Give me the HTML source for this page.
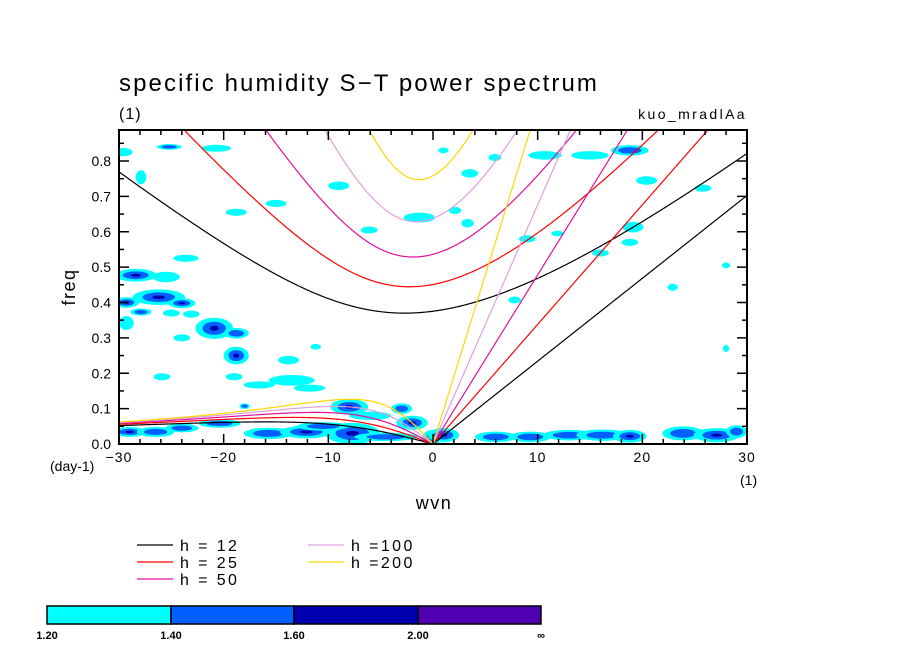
<!DOCTYPE html>
<html><head><meta charset="utf-8">
<style>
html,body{margin:0;padding:0;background:#fff;}
svg{display:block;font-family:"Liberation Sans",sans-serif;}
</style></head>
<body>
<svg id="chart" width="904" height="654" viewBox="0 0 904 654" xmlns="http://www.w3.org/2000/svg">
<rect width="904" height="654" fill="#fff"/>
<text x="119" y="91" font-size="24" letter-spacing="2.1" fill="#000">specific humidity S−T power spectrum</text>
<text x="119" y="119" font-size="16" letter-spacing="1" fill="#000">(1)</text>
<text x="747" y="119" font-size="14" letter-spacing="2.4" text-anchor="end" fill="#000">kuo_mradlAa</text>
<defs><clipPath id="plotclip"><rect x="119" y="130" width="628" height="314"/></clipPath></defs>
<g id="blobs" clip-path="url(#plotclip)"></g>
<g id="curves" clip-path="url(#plotclip)"></g>
<rect x="119" y="130" width="628" height="314" fill="none" stroke="#000" stroke-width="2"/>
<g id="axes"></g>
<text x="434" y="509" font-size="18" letter-spacing="1.5" text-anchor="middle">wvn</text>
<text x="0" y="0" font-size="18" letter-spacing="1.5" text-anchor="middle" transform="translate(75,287) rotate(-90)">freq</text>
<text x="50" y="471" font-size="14">(day-1)</text>
<text x="740" y="485" font-size="14">(1)</text>
<g id="legend"></g>
<g id="colorbar"></g>
</svg>
<script>
const depths=[12,25,50,100,200];
const depthColors=["#000000","#ff0000","#e0109f","#dda0dd","#ffd700"];
const xTicks=[-30,-20,-10,0,10,20,30];
const yTicks=[0,0.1,0.2,0.3,0.4,0.5,0.6,0.7,0.8];
const cbarLevels=["1.20","1.40","1.60","2.00","∞"];
const cbarColors=["#00ffff","#0060ff","#0000b0","#5000b0"];
// blobs: wvn, freq, rx(wvn), ry(freq), level
const blobWvn=[-25.2,-20.7,-29.7,-27.9,-9,-15,-18.8,-1.3,-6.1,-23.6,-28.4,-25.5,-26.2,-29.3,-24,-27.9,-25,-23.1,-29.3,-20.9,-18.8,-24,-18.8,-11.2,-13.8,-25.9,-19,-13.5,-16.6,-11.8,-29,-26.5,-24,-20.4,-15.7,-12.1,-7.7,-8,-2,-3,0,-18,1,6,9.3,13,16.2,18.8,23.9,27.1,29,10.7,15,18.8,20.4,3.5,5.9,3.3,2.1,19.1,25.8,16,18.8,22.9,28,7.8,28,9,11.9,1,-4.5,-10.5,-6];
const blobFreq=[0.84,0.836,0.825,0.754,0.73,0.68,0.655,0.64,0.605,0.525,0.477,0.472,0.415,0.40,0.398,0.373,0.37,0.367,0.342,0.327,0.313,0.30,0.25,0.275,0.237,0.19,0.19,0.18,0.167,0.158,0.034,0.034,0.045,0.058,0.03,0.034,0.03,0.105,0.06,0.1,0.02,0.107,0.025,0.02,0.02,0.025,0.025,0.022,0.03,0.025,0.035,0.816,0.816,0.83,0.745,0.765,0.81,0.624,0.66,0.613,0.723,0.54,0.57,0.443,0.505,0.407,0.27,0.58,0.595,0.83,0.02,0.05,0.08];
const blobRx=[1.2,1.4,1,0.5,1,1,1,1.5,0.8,1.2,2,1.3,2.5,1.2,1.3,1,0.8,0.8,0.7,1.8,1.2,0.8,1.2,0.5,1,0.8,0.8,2.2,1.5,1.5,1.6,1.8,1.6,2,2.4,2.5,2.6,1.8,1.5,1,1,0.5,1.5,2,2,2.5,2.5,1.6,2,2.2,1,1.6,1.8,1.8,1,0.8,0.6,0.6,0.6,1,0.8,0.8,0.8,0.5,0.4,0.6,0.3,0.8,0.6,0.5,3,2.5,2];
const blobRy=[0.008,0.01,0.012,0.02,0.012,0.01,0.01,0.014,0.01,0.01,0.018,0.015,0.022,0.015,0.014,0.01,0.01,0.01,0.02,0.03,0.015,0.01,0.025,0.008,0.012,0.01,0.01,0.015,0.01,0.01,0.014,0.014,0.012,0.012,0.016,0.018,0.03,0.022,0.02,0.015,0.02,0.008,0.02,0.015,0.015,0.015,0.016,0.018,0.02,0.02,0.018,0.012,0.012,0.015,0.012,0.012,0.01,0.012,0.01,0.015,0.01,0.01,0.01,0.01,0.008,0.01,0.01,0.01,0.008,0.008,0.012,0.012,0.012];
const blobLevel=[2,1,1,1,1,1,1,1,1,1,3,1,3,3,3,2,1,1,1,3,2,1,3,1,1,1,1,1,1,1,3,2,2,2,2,3,3,3,3,2,3,2,3,2,2,2,2,3,2,3,2,1,1,2,1,1,1,1,1,1,1,1,1,1,1,1,1,1,1,1,2,2,1];

const NS="http://www.w3.org/2000/svg";
const X0=119,X1=747,Y0=444;
function xs(w){return X0+(w+30)/60*(X1-X0);}
function ys(f){return Y0-f*353.75;}
function mk(tag,attrs,parent){const e=document.createElementNS(NS,tag);for(const k in attrs)e.setAttribute(k,attrs[k]);parent.appendChild(e);return e;}

const bg=document.getElementById('blobs');
const lvlCol=["#00ffff","#0060ff","#0000b0"];
for(let i=0;i<blobWvn.length;i++){
  for(let l=0;l<blobLevel[i];l++){
    const s=1-l*0.38;
    const e=mk('ellipse',{cx:xs(blobWvn[i]),cy:ys(blobFreq[i]),rx:blobRx[i]*10.467*s,ry:blobRy[i]*353.75*s,fill:lvlCol[l]},bg);
    
    
  }
}

const a=6.371e6,beta=2*7.292e-5/a,g=9.81,toCpd=86400/(2*Math.PI);
const cg=document.getElementById('curves');
depths.forEach((h,i)=>{
  const c=Math.sqrt(g*h);
  let kel=[],ig=[],ros=[];
  for(let s=-30;s<=30.0001;s+=0.1){
    const k=s/a;
    let w=Math.sqrt(c*c*k*k+3*beta*c)*1.5+1e-6;
    for(let it=0;it<60;it++){const f=w*w*w-(c*c*k*k+3*beta*c)*w-beta*k*c*c;const d=3*w*w-(c*c*k*k+3*beta*c);w-=f/d;}
    ig.push(xs(s).toFixed(2)+','+ys(w*toCpd).toFixed(2));
    if(s>=-0.0001) kel.push(xs(s).toFixed(2)+','+ys(c*k*toCpd).toFixed(2));
    if(s<=0.0001){const wr=-beta*k/(k*k+3*beta/c);ros.push(xs(s).toFixed(2)+','+ys(wr*toCpd).toFixed(2));}
  }
  [['ig',ig],['kelvin',kel],['rossby',ros]].forEach(([nm,pts])=>{
    const p=mk('polyline',{points:pts.join(' '),fill:'none',stroke:depthColors[i],'stroke-width':1.2},cg);
    
    
  });
});

const ag=document.getElementById('axes');
for(let w=-30;w<=30;w+=2){
  const major=(w%10===0);const L=major?10:5;
  mk('line',{x1:xs(w),x2:xs(w),y1:444,y2:444-L,stroke:'#000','stroke-width':1.5},ag);
  mk('line',{x1:xs(w),x2:xs(w),y1:130,y2:130+L,stroke:'#000','stroke-width':1.5},ag);
}
xTicks.forEach(w=>{
  const t=mk('text',{x:xs(w),y:462,'font-size':14,'text-anchor':'middle','letter-spacing':1},ag);
  t.textContent=(w<0?'−':'')+Math.abs(w);
  
  
});
for(let j=0;j<=17;j++){
  const f=j*0.05;const major=(j%2===0);const L=major?10:5;
  mk('line',{x1:119,x2:119+L,y1:ys(f),y2:ys(f),stroke:'#000','stroke-width':1.5},ag);
  mk('line',{x1:747,x2:747-L,y1:ys(f),y2:ys(f),stroke:'#000','stroke-width':1.5},ag);
}
yTicks.forEach(f=>{
  const t=mk('text',{x:111,y:ys(f)+5,'font-size':14,'text-anchor':'end'},ag);
  t.textContent=f.toFixed(1);
  
  
});

const lg=document.getElementById('legend');
const legPos=[[137,545],[137,562],[137,579],[308,545],[308,562]];
const legTxt=["h = 12","h = 25","h = 50","h =100","h =200"];
depths.forEach((d,i)=>{
  const [lx,ly]=legPos[i];
  const gi=mk('g',{},lg);
  
  
  mk('line',{x1:lx,x2:lx+36,y1:ly,y2:ly,stroke:depthColors[i],'stroke-width':1.2},gi);
  const t=mk('text',{x:lx+43,y:ly+6,'font-size':16,'letter-spacing':2.4},gi);
  t.textContent=legTxt[i];
});

const cb=document.getElementById('colorbar');
const cbx=[47,171,294,418,541];
cbarColors.forEach((col,i)=>{
  const r=mk('rect',{x:cbx[i],y:606,width:cbx[i+1]-cbx[i],height:18,fill:col,stroke:'#000','stroke-width':1.5},cb);
  
  
});
cbarLevels.forEach((lv,i)=>{
  const t=mk('text',{x:cbx[i],y:639,'font-size':11,'font-weight':'bold','text-anchor':'middle'},cb);
  t.textContent=lv;
  
  
});
</script>
</body></html>
